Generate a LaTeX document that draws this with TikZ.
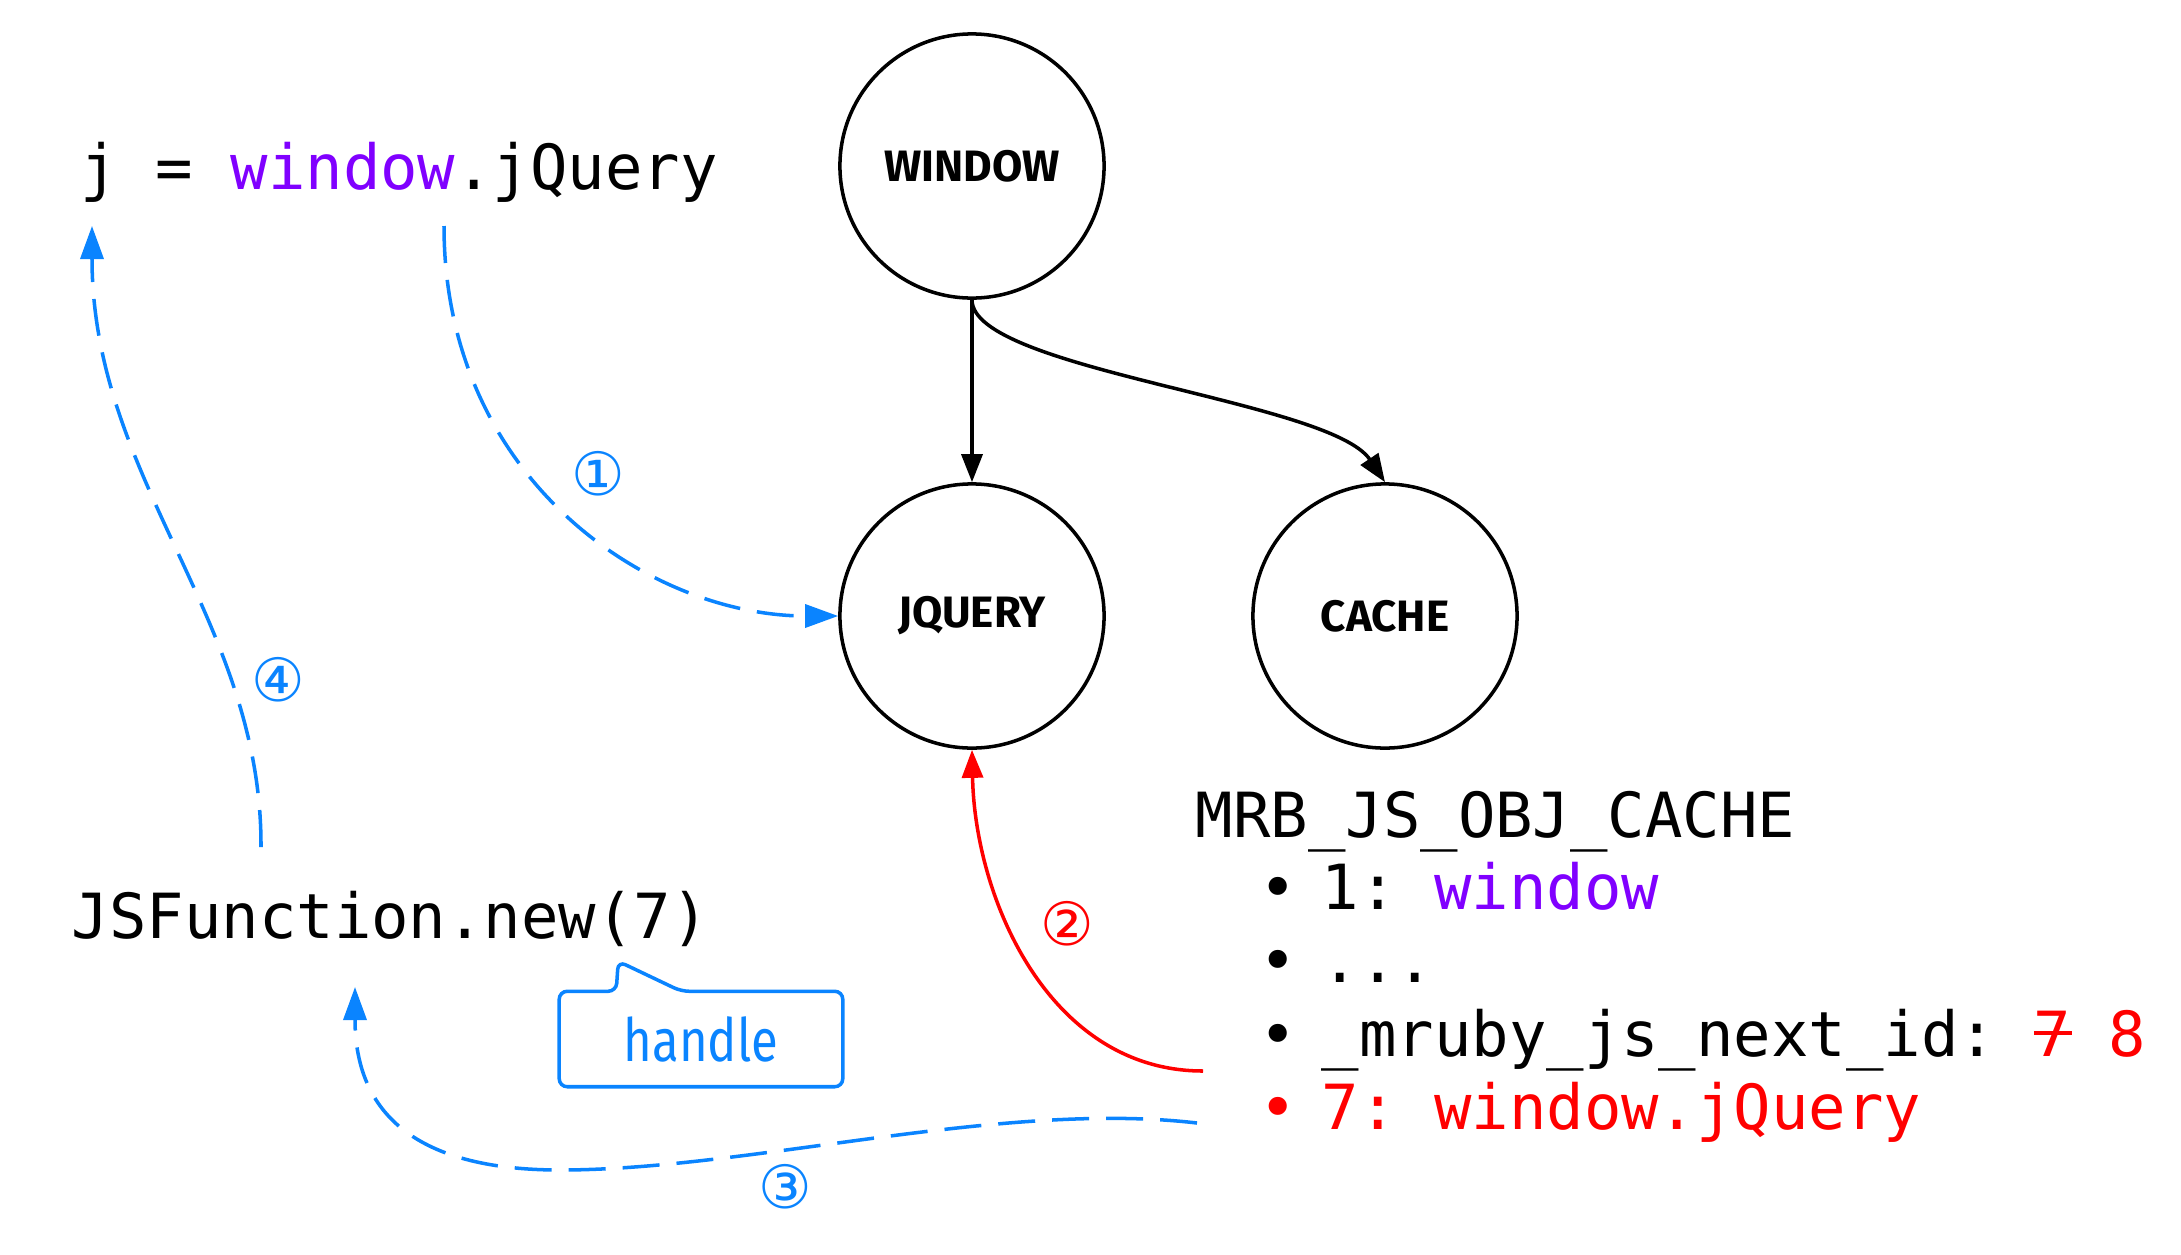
\documentclass[tikz,border=0pt]{standalone}
\usepackage{fontspec}
\usepackage{graphicx}
\setmonofont{DejaVu Sans Mono}
\newfontfamily\handfont{Fira Sans}
\newfontfamily\numfont{DejaVu Sans}
\usepackage{xcolor}
\usetikzlibrary{calc}
\usetikzlibrary{arrows.meta}
\definecolor{jsviolet}{HTML}{8000FF}
\definecolor{jsblue}{HTML}{0A84FF}
\definecolor{jsred}{HTML}{FF0000}
\newcommand{\struck}[1]{\rlap{\rule[0.34em]{0.62em}{0.065em}}#1}

\begin{document}
\begin{tikzpicture}
    [x=0.01cm, y=-0.01cm,
     state/.style={circle, draw=black, line width=1pt, minimum size=2.64cm, inner sep=0pt, font=\handfont\bfseries\fontsize{12.5}{15}\selectfont},
     code/.style={anchor=base west, inner sep=0pt, font=\ttfamily\fontsize{17.7}{21}\selectfont},
     num/.style={inner sep=0pt, font=\numfont\fontsize{17}{20}\selectfont},
     link/.style={line width=1pt, -{Triangle[length=0.28cm, width=0.21cm]}},
     flow/.style={jsblue, line width=1pt, dash pattern=on 0.37cm off 0.17cm, -{Triangle[length=0.33cm, width=0.23cm]}}]
    \useasboundingbox (0,0) rectangle (2181,1254);
    \foreach \n/\x/\y/\lbl in {window/972/166/WINDOW,jquery/972/616/JQUERY,cache/1385/616/CACHE}{
        \node(\n)[state] at (\x,\y) {\lbl};
    }
    \node(jq)[code] at (80,189) {j = \textcolor{jsviolet}{window}.jQuery};
    \node(jsfn)[code] at (71,938) {JSFunction.new(7)};
    \node(mrb)[code] at (1195,837) {MRB\_JS\_OBJ\_CACHE};
    \foreach \r/\y/\txt in {r1/909/{\makebox[0.62cm][l]{•}1: \textcolor{jsviolet}{window}},
                            r2/982/{\makebox[0.62cm][l]{•}...},
                            r3/1056/{\makebox[0.62cm][l]{•}\_mruby\_js\_next\_id: \textcolor{jsred}{\struck{7} 8}},
                            r4/1129/{\color{jsred}\makebox[0.62cm][l]{•}7: window.jQuery}}{
        \node(\r)[code] at (1259,\y) {\txt};
    }
    % handle callout
    \node(handle)[inner sep=0pt, minimum width=2.82cm, minimum height=0.94cm, text=jsblue, font=\handfont\fontsize{17}{19}\selectfont] at (701,1039) {\scalebox{0.82}[1]{handle}};
    \draw[jsblue, line width=1pt, rounded corners=0.08cm] (handle.north west) -- ($(handle.north west)+(57,0)$) -- ($(handle.north west)+(59,-30)$) -- ($(handle.north west)+(122,0)$) -- (handle.north east) -- (handle.south east) -- (handle.south west) -- cycle;
    % free ends
    \coordinate (q1) at (444,226);
    \coordinate (q2) at (1203,1071);
    \coordinate (q3s) at (1197,1123);
    \coordinate (q3e) at (355,987);
    \coordinate (q4s) at (261,847);
    \coordinate (q4e) at (92,226);
    \draw[link] (window) -- (jquery);
    \draw[link] (window.south) .. controls (972,370) and (1330,400) .. (cache.north);
    \draw[flow] (q1) .. controls (444,480) and (650,616) .. (jquery.west);
    \draw[link, jsred] (q2) .. controls (1050,1071) and (975,900) .. (jquery.south);
    \draw[flow] (q3s) .. controls (1000,1100) and (750,1170) .. (560,1170) .. controls (400,1170) and (355,1100) .. (q3e);
    \draw[flow] (q4s) .. controls (262,620) and (92,480) .. (q4e);
    \node(n1)[num, text=jsblue] at (598,474) {①};
    \node(n2)[num, text=jsred] at (1067,924) {②};
    \node(n3)[num, text=jsblue] at (785,1187) {③};
    \node(n4)[num, text=jsblue] at (278,680) {④};
\end{tikzpicture}
\end{document}
